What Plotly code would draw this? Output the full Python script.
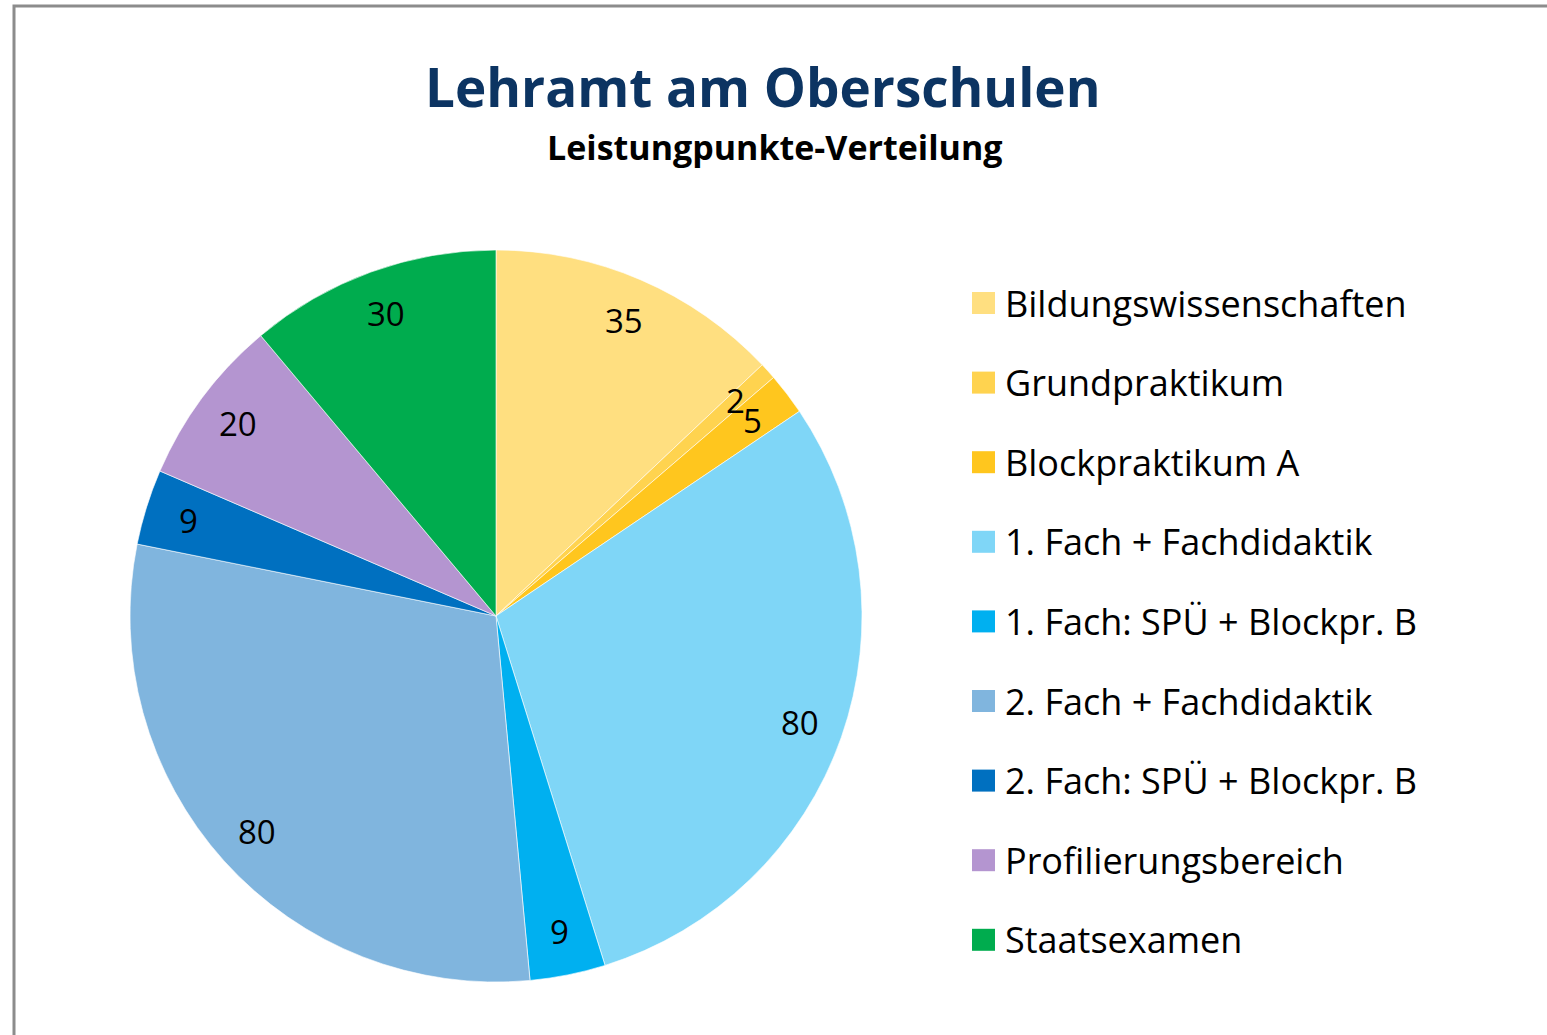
import math
import plotly.graph_objects as go

W, H = 1547, 1035

categories = [
    "Bildungswissenschaften",
    "Grundpraktikum",
    "Blockpraktikum A",
    "1. Fach + Fachdidaktik",
    "1. Fach: SPÜ + Blockpr. B",
    "2. Fach + Fachdidaktik",
    "2. Fach: SPÜ + Blockpr. B",
    "Profilierungsbereich",
    "Staatsexamen",
]
values = [35, 2, 5, 80, 9, 80, 9, 20, 30]
colors = [
    "#FFDF80", "#FFD34F", "#FFC61E",
    "#7FD6F7", "#00B0F0", "#80B5DE",
    "#0070C0", "#B495D0", "#00AC4E",
]

title_text = "Lehramt am Oberschulen"
subtitle_text = "Leistungpunkte-Verteilung"

FONT = "Open Sans"

# geometry (screen pixels)
CX, CY, R = 496, 616, 366


def px(x):
    return x / W


def py(y):
    return 1 - y / H


fig = go.Figure()
fig.add_trace(go.Pie(
    labels=categories,
    values=values,
    sort=False,
    direction="clockwise",
    rotation=0,
    marker=dict(colors=colors, line=dict(color="rgba(255,255,255,0.6)", width=1)),
    textinfo="none",
    hoverinfo="label+value",
    showlegend=False,
    domain=dict(x=[px(CX - R), px(CX + R)], y=[py(CY + R), py(CY - R)]),
))

annotations = []
shapes = []

# data labels, placed from the slice angles
total = sum(values)
cum = 0
for v in values:
    mid = (cum + v / 2) / total * 2 * math.pi
    cum += v
    rr = 0.88 * R
    lx = CX + rr * math.sin(mid)
    ly = CY - rr * math.cos(mid)
    annotations.append(dict(
        x=px(lx), y=py(ly), xref="paper", yref="paper",
        text=str(v), showarrow=False, xanchor="center", yanchor="middle",
        font=dict(family=FONT, size=33, color="#000000"),
    ))

# legend built manually to match spacing
LEG_X, LEG_Y0, LEG_DY, SQ = 972, 303, 79.6, 22
for i, (name, col) in enumerate(zip(categories, colors)):
    cy = LEG_Y0 + i * LEG_DY
    shapes.append(dict(
        type="rect", xref="paper", yref="paper",
        x0=px(LEG_X), x1=px(LEG_X + SQ + 1), y0=py(cy - SQ / 2), y1=py(cy + SQ / 2),
        fillcolor=col, line=dict(width=0),
    ))
    annotations.append(dict(
        x=px(LEG_X + SQ + 9), y=py(cy), xref="paper", yref="paper",
        text=name, showarrow=False, xanchor="left", yanchor="middle",
        font=dict(family=FONT, size=36, color="#000000"),
    ))

# titles
annotations.append(dict(
    x=px(763), y=py(86), xref="paper", yref="paper", text="<b>" + title_text + "</b>",
    showarrow=False, xanchor="center", yanchor="middle",
    font=dict(family=FONT, size=53, color="#0C3462"),
))
annotations.append(dict(
    x=px(774), y=py(147), xref="paper", yref="paper", text="<b>" + subtitle_text + "</b>",
    showarrow=False, xanchor="center", yanchor="middle",
    font=dict(family=FONT, size=34, color="#000000"),
))

# frame
shapes.append(dict(
    type="rect", xref="paper", yref="paper",
    x0=px(14), x1=px(W + 20), y0=py(H + 20), y1=py(6),
    line=dict(color="#8C8C8C", width=3), fillcolor="rgba(0,0,0,0)",
))

fig.update_layout(
    width=W, height=H,
    margin=dict(l=0, r=0, t=0, b=0),
    paper_bgcolor="#FFFFFF",
    plot_bgcolor="#FFFFFF",
    showlegend=False,
    annotations=annotations,
    shapes=shapes,
)

fig.write_html(
    "out.html",
    config={"displayModeBar": False},
    post_script="document.body.style.margin='0';document.body.style.overflow='hidden';",
)
